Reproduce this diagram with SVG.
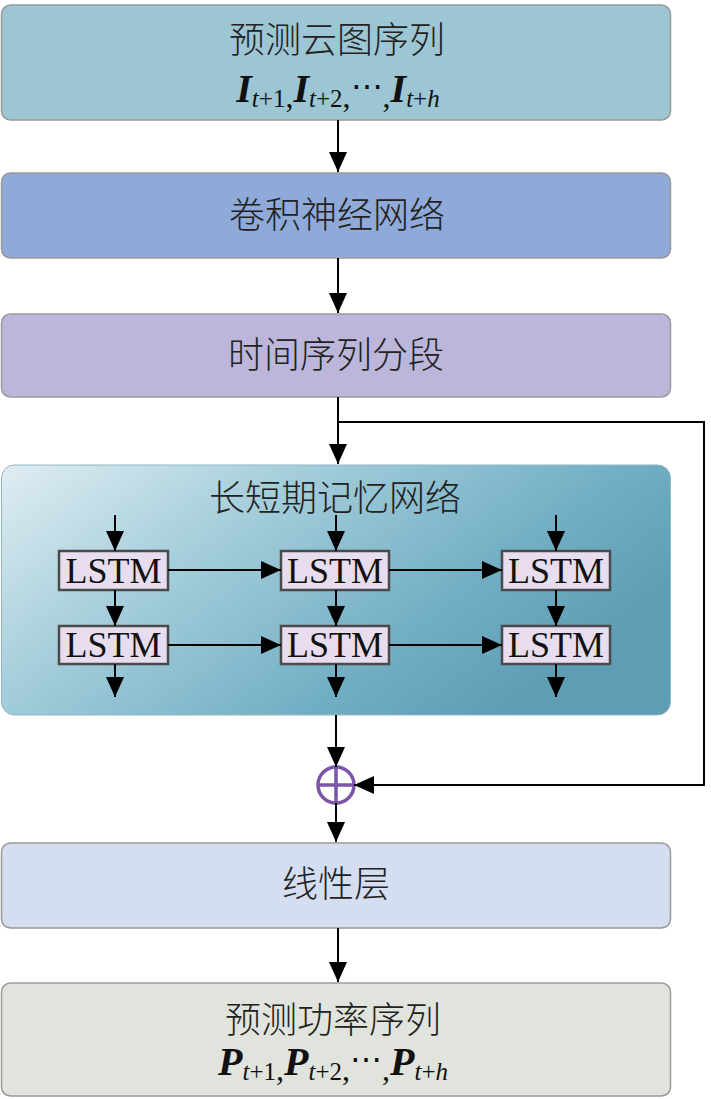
<svg xmlns="http://www.w3.org/2000/svg" width="711" height="1099" viewBox="0 0 711 1099">
<defs>
<linearGradient id="lg" x1="0" y1="0" x2="1" y2="0.5">
<stop offset="0" stop-color="#e0edf2"/>
<stop offset="0.35" stop-color="#a7cfdc"/>
<stop offset="0.75" stop-color="#72afc4"/>
<stop offset="1" stop-color="#5e9db4"/>
</linearGradient>
<marker id="ahb" markerWidth="20" markerHeight="18" viewBox="0 0 20 18" refX="20" refY="9" orient="auto" markerUnits="userSpaceOnUse">
<path d="M0,0 L20,9 L0,18 z" fill="#000"/>
</marker>
</defs>
<style>
.box{stroke:#9a9a9a;stroke-width:1.5}
.cn{font-family:"Noto Sans CJK SC",sans-serif;font-size:36px;fill:#222;text-anchor:middle;font-weight:300}
.lstm{fill:#e7ddef;stroke:#4a4a4a;stroke-width:2.5}
.lt{font-family:"Liberation Serif",serif;font-size:36px;fill:#111;text-anchor:middle}
.c{stroke:#000;stroke-width:2;fill:none}
.f{font-family:"Liberation Serif",serif;fill:#111}
.B{font-size:40px;font-weight:bold;font-style:italic}
.s{font-size:25px}
.i{font-style:italic}
.cm{font-size:32px}
</style>
<g id="n1">
<rect class="box" x="1.5" y="5" width="669" height="115" rx="9" fill="#9cc6d4"/>
<text class="cn" x="337" y="53">预测云图序列</text>
<text class="f" x="338" y="102" text-anchor="middle"><tspan class="B">I</tspan><tspan class="s i" dy="5">t</tspan><tspan class="s">+1</tspan><tspan class="cm">,</tspan><tspan class="B" dy="-5">I</tspan><tspan class="s i" dy="5">t</tspan><tspan class="s">+2</tspan><tspan class="cm">,</tspan><tspan class="cm" dy="-10">⋯</tspan><tspan class="cm" dy="10">,</tspan><tspan class="B" dy="-5">I</tspan><tspan class="s i" dy="5">t</tspan><tspan class="s">+</tspan><tspan class="s i">h</tspan></text>
</g>
<g id="n2">
<rect class="box" x="1.5" y="173" width="669" height="85" rx="9" fill="#8faad8"/>
<text class="cn" x="337" y="228">卷积神经网络</text>
</g>
<g id="n3">
<rect class="box" x="1.5" y="314" width="669" height="83" rx="9" fill="#bcb6da"/>
<text class="cn" x="336" y="368">时间序列分段</text>
</g>
<g id="n4">
<rect x="1.5" y="465" width="669" height="250" rx="13" fill="url(#lg)" stroke="#8fb7c6" stroke-width="1"/>
<text class="cn" x="335" y="511">长短期记忆网络</text>
</g>
<g id="lstm">
<rect class="lstm" x="59" y="551" width="109" height="39"/>
<text class="lt" x="113.5" y="583">LSTM</text>
<rect class="lstm" x="281" y="551" width="108" height="39"/>
<text class="lt" x="335" y="583">LSTM</text>
<rect class="lstm" x="502" y="551" width="108" height="39"/>
<text class="lt" x="556" y="583">LSTM</text>
<rect class="lstm" x="59" y="626" width="109" height="38"/>
<text class="lt" x="113.5" y="657">LSTM</text>
<rect class="lstm" x="281" y="626" width="108" height="38"/>
<text class="lt" x="335" y="657">LSTM</text>
<rect class="lstm" x="502" y="626" width="108" height="38"/>
<text class="lt" x="556" y="657">LSTM</text>
</g>
<g id="n5">
<circle cx="336" cy="785" r="18" fill="none" stroke="#7b56a8" stroke-width="3.5"/>
<line x1="318" y1="785" x2="354" y2="785" stroke="#7b56a8" stroke-width="3.5"/>
<line x1="336" y1="767" x2="336" y2="803" stroke="#7b56a8" stroke-width="3.5"/>
</g>
<g id="n6">
<rect class="box" x="1.5" y="843" width="669" height="85" rx="9" fill="#d5ddf0"/>
<text class="cn" x="336" y="897">线性层</text>
</g>
<g id="n7">
<rect class="box" x="1.5" y="983" width="669" height="113" rx="9" fill="#e0e4dc"/>
<text class="cn" x="333" y="1033">预测功率序列</text>
<text class="f" x="333" y="1075" text-anchor="middle"><tspan class="B">P</tspan><tspan class="s i" dy="5">t</tspan><tspan class="s">+1</tspan><tspan class="cm">,</tspan><tspan class="B" dy="-5">P</tspan><tspan class="s i" dy="5">t</tspan><tspan class="s">+2</tspan><tspan class="cm">,</tspan><tspan class="cm" dy="-10">⋯</tspan><tspan class="cm" dy="10">,</tspan><tspan class="B" dy="-5">P</tspan><tspan class="s i" dy="5">t</tspan><tspan class="s">+</tspan><tspan class="s i">h</tspan></text>
</g>
<g id="connectors">
<line class="c" x1="338" y1="120" x2="338" y2="172" marker-end="url(#ahb)"/>
<line class="c" x1="338" y1="258" x2="338" y2="313" marker-end="url(#ahb)"/>
<line class="c" x1="338" y1="397" x2="338" y2="464" marker-end="url(#ahb)"/>
<polyline class="c" points="338,422 704,422 704,785 354,785" marker-end="url(#ahb)"/>
<line class="c" x1="115" y1="515" x2="115" y2="551" marker-end="url(#ahb)"/>
<line class="c" x1="336" y1="515" x2="336" y2="551" marker-end="url(#ahb)"/>
<line class="c" x1="556" y1="515" x2="556" y2="551" marker-end="url(#ahb)"/>
<line class="c" x1="115" y1="590" x2="115" y2="626" marker-end="url(#ahb)"/>
<line class="c" x1="336" y1="590" x2="336" y2="626" marker-end="url(#ahb)"/>
<line class="c" x1="556" y1="590" x2="556" y2="626" marker-end="url(#ahb)"/>
<line class="c" x1="115" y1="664" x2="115" y2="697" marker-end="url(#ahb)"/>
<line class="c" x1="336" y1="664" x2="336" y2="697" marker-end="url(#ahb)"/>
<line class="c" x1="556" y1="664" x2="556" y2="697" marker-end="url(#ahb)"/>
<line class="c" x1="168" y1="570" x2="281" y2="570" marker-end="url(#ahb)"/>
<line class="c" x1="389" y1="570" x2="502" y2="570" marker-end="url(#ahb)"/>
<line class="c" x1="168" y1="645" x2="281" y2="645" marker-end="url(#ahb)"/>
<line class="c" x1="389" y1="645" x2="502" y2="645" marker-end="url(#ahb)"/>
<line class="c" x1="336" y1="715" x2="336" y2="767" marker-end="url(#ahb)"/>
<line class="c" x1="336" y1="803" x2="336" y2="842" marker-end="url(#ahb)"/>
<line class="c" x1="338" y1="928" x2="338" y2="982" marker-end="url(#ahb)"/>
</g>
</svg>
